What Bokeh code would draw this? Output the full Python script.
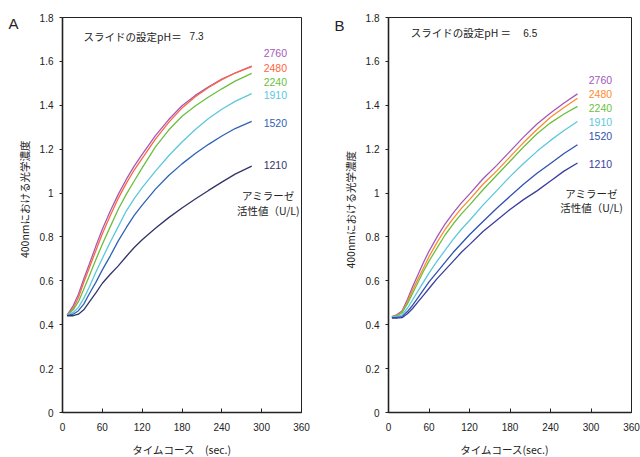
from bokeh.plotting import figure
from bokeh.layouts import row
from bokeh.models import Label, Range1d, FixedTicker, NumeralTickFormatter, LinearAxis
from bokeh.embed import file_html
from bokeh.resources import INLINE

# ---------------- data ----------------
activities = ["2760", "2480", "2240", "1910", "1520", "1210"]

x_ticks = [0, 60, 120, 180, 240, 300, 360]
y_ticks = [0, 0.2, 0.4, 0.6, 0.8, 1.0, 1.2, 1.4, 1.6, 1.8]

# Panel A: slide pH 7.3
time_a = [7, 16, 24, 32, 40, 50, 60, 72, 84, 96, 108, 120, 140, 160, 180, 200, 220, 240, 260, 285]
a_2760 = [0.444, 0.486, 0.539, 0.608, 0.673, 0.756, 0.835, 0.918, 0.994, 1.062, 1.123, 1.176, 1.262, 1.335, 1.398, 1.445, 1.484, 1.519, 1.547, 1.578]
a_2480 = [0.444, 0.474, 0.524, 0.592, 0.656, 0.736, 0.815, 0.898, 0.976, 1.044, 1.105, 1.158, 1.246, 1.322, 1.388, 1.439, 1.481, 1.517, 1.547, 1.576]
a_2240 = [0.444, 0.468, 0.505, 0.562, 0.620, 0.695, 0.767, 0.847, 0.926, 0.994, 1.055, 1.115, 1.210, 1.287, 1.350, 1.397, 1.438, 1.475, 1.510, 1.545]
a_1910 = [0.444, 0.456, 0.479, 0.520, 0.570, 0.638, 0.702, 0.777, 0.847, 0.918, 0.975, 1.025, 1.100, 1.170, 1.233, 1.290, 1.340, 1.382, 1.418, 1.453]
a_1520 = [0.441, 0.448, 0.464, 0.494, 0.539, 0.592, 0.650, 0.714, 0.782, 0.842, 0.898, 0.945, 1.018, 1.080, 1.133, 1.180, 1.222, 1.260, 1.294, 1.327]
a_1210 = [0.441, 0.441, 0.448, 0.468, 0.502, 0.544, 0.589, 0.630, 0.668, 0.711, 0.752, 0.787, 0.840, 0.888, 0.932, 0.973, 1.012, 1.050, 1.086, 1.123]

# Panel B: slide pH 6.5
time_b = [5, 12, 20, 28, 36, 44, 52, 60, 72, 84, 96, 108, 120, 140, 160, 180, 200, 220, 240, 260, 280]
b_2760 = [0.437, 0.445, 0.462, 0.515, 0.575, 0.630, 0.685, 0.735, 0.800, 0.860, 0.910, 0.955, 0.995, 1.065, 1.125, 1.190, 1.255, 1.315, 1.365, 1.410, 1.452]
b_2480 = [0.436, 0.442, 0.458, 0.505, 0.560, 0.610, 0.660, 0.710, 0.775, 0.835, 0.885, 0.930, 0.970, 1.040, 1.100, 1.165, 1.230, 1.290, 1.345, 1.390, 1.432]
b_2240 = [0.435, 0.440, 0.455, 0.495, 0.545, 0.595, 0.645, 0.690, 0.750, 0.810, 0.860, 0.905, 0.945, 1.015, 1.080, 1.145, 1.210, 1.270, 1.320, 1.360, 1.395]
b_1910 = [0.435, 0.437, 0.445, 0.475, 0.515, 0.555, 0.595, 0.635, 0.690, 0.740, 0.790, 0.835, 0.875, 0.945, 1.010, 1.075, 1.135, 1.190, 1.240, 1.285, 1.326]
b_1520 = [0.432, 0.433, 0.437, 0.460, 0.490, 0.525, 0.560, 0.595, 0.640, 0.685, 0.730, 0.770, 0.810, 0.870, 0.930, 0.985, 1.040, 1.090, 1.135, 1.180, 1.220]
b_1210 = [0.430, 0.430, 0.432, 0.450, 0.475, 0.505, 0.535, 0.565, 0.610, 0.650, 0.690, 0.730, 0.765, 0.825, 0.875, 0.925, 0.970, 1.010, 1.055, 1.100, 1.137]

colors_a = ["#A35AB8", "#FF6640", "#6BBF40", "#5CC8DA", "#2F62B5", "#323468"]
colors_b = ["#A358B8", "#FF8A2E", "#6CBF3F", "#5CC8DA", "#3052B0", "#3A3E9E"]

JP = "Noto Sans CJK JP"
NUM = "Liberation Sans"
TXT = "#222222"


def lab(p, x, y, text, size="10.5px", font=JP, color=TXT, align="left"):
    p.add_layout(Label(x=x, y=y, text=text, text_font=font, text_font_size=size,
                       text_color=color, text_align=align, text_baseline="middle"))


def panel(times, series, colors, letter, letter_pos,
          xlabel, ylabel, fw, fh, bl, br, bt, bb):
    p = figure(frame_width=fw, frame_height=fh,
               min_border_left=bl, min_border_right=br, min_border_top=bt,
               min_border_bottom=bb, x_range=Range1d(0, 360), y_range=Range1d(0, 1.8),
               output_backend="svg", toolbar_location=None)
    p.grid.visible = False
    p.outline_line_color = TXT
    p.outline_line_width = 1
    p.background_fill_color = "white"
    p.border_fill_color = "white"
    for ax in (p.xaxis[0], p.yaxis[0]):
        ax.axis_line_color = TXT
        ax.axis_line_width = 1.6
        ax.major_tick_line_color = TXT
        ax.major_tick_line_width = 1
        ax.minor_tick_line_color = None
        ax.major_label_text_font = NUM
        ax.major_label_text_font_size = "10px"
        ax.major_label_text_color = TXT
        ax.axis_label_text_font = JP
        ax.axis_label_text_font_size = "10.5px"
        ax.axis_label_text_font_style = "normal"
        ax.axis_label_text_color = TXT
    p.xaxis.ticker = FixedTicker(ticks=x_ticks)
    p.xaxis.major_tick_in = 4
    p.xaxis.major_tick_out = 0
    p.xaxis.major_label_standoff = 10
    p.xaxis.axis_label = xlabel
    p.xaxis.axis_label_standoff = 8
    p.yaxis.ticker = FixedTicker(ticks=y_ticks)
    p.yaxis.formatter = NumeralTickFormatter(format="0.[0]")
    p.yaxis.major_tick_in = 0
    p.yaxis.major_tick_out = 3
    p.yaxis.major_label_standoff = 6
    p.yaxis.axis_label = ylabel
    p.yaxis.axis_label_standoff = 5

    # panel letter drawn as the only label of an outer, line-less axis
    p.extra_y_ranges = {"letter": Range1d(0, 1)}
    lax = LinearAxis(y_range_name="letter", ticker=FixedTicker(ticks=[letter_pos]),
                     major_label_overrides={letter_pos: letter})
    lax.axis_line_color = None
    lax.major_tick_line_color = None
    lax.minor_tick_line_color = None
    lax.major_tick_in = 0
    lax.major_tick_out = 0
    lax.major_label_standoff = -5
    lax.major_label_text_font = NUM
    lax.major_label_text_font_size = "15px"
    lax.major_label_text_color = TXT
    p.add_layout(lax, "left")

    for ys, c in zip(series, colors):
        p.line(times, ys, line_color=c, line_width=1.3)
    return p


# ---------------- panel A ----------------
pA = panel(time_a, [a_2760, a_2480, a_2240, a_1910, a_1520, a_1210], colors_a,
           "A", 0.985, "タイムコース　(sec.)", "　　　400nmにおける光学濃度",
           239, 395, 62, 25, 17, 45)
lab(pA, 31.6, 1.714, "スライドの設定pH＝")
lab(pA, 191.4, 1.714, "7.3", size="10px", font=NUM)
a_label_y = [1.636, 1.572, 1.508, 1.446, 1.319, 1.127]
for name, yy, c in zip(activities, a_label_y, colors_a):
    lab(pA, 303, yy, name, font=NUM, color=c)
lab(pA, 310, 0.990, "アミラーゼ", align="center")
lab(pA, 310, 0.919, "活性値（U/L)", align="center")

# ---------------- panel B ----------------
pB = panel(time_b, [b_2760, b_2480, b_2240, b_1910, b_1520, b_1210], colors_b,
           "B", 0.981, "タイムコース(sec.)　", "　400nmにおける光学濃度",
           243, 395, 62, 9, 17, 45)
lab(pB, 33, 1.731, "スライドの設定pH")
lab(pB, 166, 1.731, "＝")
lab(pB, 199.7, 1.731, "6.5", size="10px", font=NUM)
b_label_y = [1.517, 1.453, 1.389, 1.325, 1.262, 1.133]
for name, yy, c in zip(activities, b_label_y, colors_b):
    lab(pB, 296.7, yy, name, font=NUM, color=c)
lab(pB, 300.7, 0.999, "アミラーゼ", align="center")
lab(pB, 300.7, 0.935, "活性値（U/L)", align="center")

layout = row(pA, pB)
open("out.html", "w").write(file_html(layout, INLINE))
